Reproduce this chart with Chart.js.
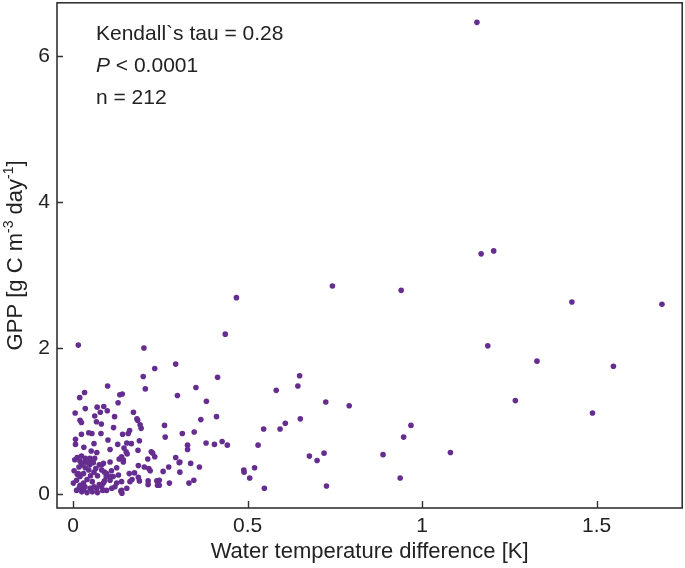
<!DOCTYPE html>
<html>
<head>
<meta charset="utf-8">
<script src="https://cdn.jsdelivr.net/npm/chart.js@4/dist/chart.umd.min.js"></script>
<style>
  html, body { margin: 0; padding: 0; background: #fff; }
  #wrap { position: relative; width: 685px; height: 568px; }
</style>
</head>
<body>
<div id="wrap"><canvas id="chart"></canvas></div>
<script>
"use strict";

// water temperature difference [K]
const tempDiff = [
  1.157, 1.169, 1.205, 0.940, 1.429, 1.687, 1.188, 1.329, 1.548, 1.267,
  1.488, 0.968, 0.947, 1.081, 0.937, 0.743, 0.468, 0.436, 0.414, 0.352,
  0.582, 0.644, 0.649, 0.382, 0.724, 0.791, 0.411, 0.366, 0.651, 0.608,
  0.593, 0.546, 0.313, 0.347, 0.328, 0.328, 0.381, 0.405, 0.427, 0.442,
  0.530, 0.677, 0.699, 0.719, 0.888, 0.306, 0.337, 0.362, 0.306, 0.332,
  0.346, 0.489, 0.490, 0.520, 0.506, 0.548, 0.726, 0.203, 0.294, 0.234,
  0.201, 0.207, 0.299, 0.173, 0.183, 0.015, 0.099, 0.033, 0.019, 0.141,
  0.134, 0.129, 0.035, 0.006, 0.069, 0.088, 0.098, 0.078, 0.062, 0.119,
  0.020, 0.024, 0.067, 0.081, 0.192, 0.195, 0.185, 0.262, 0.264, 0.024,
  0.045, 0.054, 0.080, 0.116, 0.142, 0.162, 0.158, 0.007, 0.007, 0.031,
  0.060, 0.100, 0.128, 0.154, 0.167, 0.190, 0.186, 0.106, 0.052, 0.068,
  0.146, 0.152, 0.155, 0.224, 0.228, 0.234, 0.214, 0.005, 0.012, 0.024,
  0.035, 0.048, 0.062, 0.042, 0.053, 0.048, 0.082, 0.132, 0.144, 0.139,
  0.187, 0.258, 0.274, 0.294, 0.304, 0.204, 0.217, 0.221, 0.176, 0.169,
  0.163, 0.187, 0.190, 0.215, 0.215, 0.240, 0.242, 0.247, 0.247, 0.276,
  0.020, 0.034, 0.058, 0.087, 0.106, 0.144, 0.017, 0.003, 0.015, 0.020,
  0.010, 0.030, 0.082, 0.096, 0.115, 0.130, 0.139, 0.125, 0.106, 0.087,
  0.001, 0.020, 0.034, 0.049, 0.068, 0.082, 0.096, 0.111, 0.139, 0.154,
  0.095, 0.106, 0.161, 0.137, 0.140, 0.010, 0.025, 0.030, 0.040, 0.055,
  0.060, 0.070, 0.075, 0.085, 0.090, 0.120, 0.030, 0.040, 0.050, 0.060,
  0.045, 0.025, 0.012, 0.070, 0.055, 0.018, 0.090, 0.110, 0.125, 0.075,
  0.035, 0.065
];

// GPP [g C m-3 day-1]
const gpp = [
  6.46, 3.29, 3.33, 2.79, 2.63, 2.60, 2.03, 1.82, 1.75, 1.28,
  1.11, 0.94, 0.78, 0.57, 0.22, 2.85, 2.69, 2.19, 1.60, 1.46,
  1.42, 1.48, 1.62, 1.27, 1.26, 1.21, 1.06, 1.02, 1.03, 0.97,
  0.89, 0.89, 0.83, 0.85, 0.67, 0.61, 0.70, 0.68, 0.72, 0.67,
  0.67, 0.52, 0.46, 0.56, 0.54, 0.44, 0.42, 0.37, 0.30, 0.15,
  0.19, 0.33, 0.30, 0.36, 0.22, 0.08, 0.11, 2.00, 1.78, 1.72,
  1.61, 1.44, 1.35, 1.12, 1.03, 2.04, 1.48, 1.39, 1.32, 1.37,
  1.36, 1.25, 1.17, 1.11, 1.19, 1.20, 1.14, 1.12, 1.07, 1.06,
  1.01, 0.98, 0.99, 0.96, 0.95, 0.90, 1.01, 0.94, 0.78, 0.82,
  0.84, 0.83, 0.83, 0.91, 0.82, 0.87, 0.83, 0.75, 0.68, 0.64,
  0.69, 0.74, 0.68, 0.70, 0.69, 0.73, 0.60, 0.61, 0.59, 0.57,
  0.63, 0.58, 0.55, 0.58, 0.56, 0.51, 0.48, 0.47, 0.50, 0.52,
  0.49, 0.49, 0.49, 0.43, 0.44, 0.40, 0.40, 0.48, 0.47, 0.51,
  0.39, 0.31, 0.37, 0.50, 0.43, 0.37, 0.35, 0.32, 0.29, 0.20,
  0.17, 0.23, 0.18, 0.18, 0.13, 0.18, 0.12, 0.19, 0.12, 0.15,
  0.45, 0.44, 0.43, 0.42, 0.44, 0.44, 0.37, 0.32, 0.28, 0.24,
  0.19, 0.28, 0.33, 0.28, 0.24, 0.26, 0.17, 0.15, 0.19, 0.15,
  0.15, 0.12, 0.10, 0.08, 0.08, 0.10, 0.05, 0.08, 0.05, 0.08,
  0.24, 0.24, 0.28, 0.04, 0.01, 0.05, 0.03, 0.07, 0.02, 0.03,
  0.10, 0.02, 0.13, 0.05, 0.18, 0.10, 0.15, 0.20, 0.25, 0.30,
  0.33, 0.40, 0.27, 0.25, 0.17, 0.09, 0.30, 0.32, 0.36, 0.40,
  0.36, 0.35
];

const xTicks = [0, 0.5, 1, 1.5];
const yTicks = [0, 2, 4, 6];
const statLines = ["Kendall`s tau = 0.28", "< 0.0001", "n = 212"];

const FONT = "'Liberation Sans', Arial, Helvetica, sans-serif";
const INK = "#222";
const DOT = "#662d91";

const frameAndTicks = {
  id: "frameAndTicks",
  afterDraw(chart) {
    const { ctx, chartArea: a, scales } = chart;
    ctx.save();
    ctx.strokeStyle = "#333";
    ctx.lineWidth = 1.4;
    ctx.beginPath();
    xTicks.forEach((v) => {
      const px = Math.round(scales.x.getPixelForValue(v)) + 0.5;
      ctx.moveTo(px, a.bottom);
      ctx.lineTo(px, a.bottom - 7);
    });
    yTicks.forEach((v) => {
      const py = Math.round(scales.y.getPixelForValue(v)) + 0.5;
      ctx.moveTo(a.left, py);
      ctx.lineTo(a.left + 6, py);
    });
    ctx.stroke();
    ctx.lineWidth = 1.6;
    ctx.strokeRect(a.left, a.top, a.right - a.left, a.bottom - a.top);

    // stats text
    ctx.fillStyle = INK;
    ctx.textBaseline = "alphabetic";
    ctx.textAlign = "left";
    const tx = a.left + 39;
    ctx.font = `21px ${FONT}`;
    ctx.fillText(statLines[0], tx, a.top + 37);
    ctx.font = `italic 21px ${FONT}`;
    ctx.fillText("P", tx, a.top + 69);
    const pw = ctx.measureText("P ").width;
    ctx.font = `21px ${FONT}`;
    ctx.fillText(statLines[1], tx + pw, a.top + 69);
    ctx.fillText(statLines[2], tx, a.top + 101);

    // y axis title with superscripts
    const parts = [
      ["GPP [g C m", false], ["-3", true], [" day", false], ["-1", true], ["]", false],
    ];
    const widthOf = ([t, sup]) => {
      ctx.font = sup ? `14px ${FONT}` : `22px ${FONT}`;
      return ctx.measureText(t).width;
    };
    const total = parts.reduce((s, p) => s + widthOf(p), 0);
    ctx.translate(22, (a.top + a.bottom) / 2);
    ctx.rotate(-Math.PI / 2);
    let cx = -total / 2;
    parts.forEach((p) => {
      const w = widthOf(p);
      ctx.fillText(p[0], cx, p[1] ? -9 : 0);
      cx += w;
    });
    ctx.restore();
  },
};

const noEdgePadding = (s) => {
  s.paddingTop = 0;
  s.paddingBottom = 0;
  s.paddingLeft = 0;
  s.paddingRight = 0;
};

new Chart(document.getElementById("chart"), {
  type: "scatter",
  data: {
    datasets: [{
      data: tempDiff.map((x, i) => ({ x, y: gpp[i] })),
      backgroundColor: DOT,
      borderColor: DOT,
      borderWidth: 0,
      pointRadius: 2.8,
      pointHoverRadius: 2.8,
    }],
  },
  options: {
    responsive: true,
    maintainAspectRatio: false,
    animation: false,
    layout: { padding: { top: 1, right: 2, left: 0, bottom: 0 } },
    plugins: { legend: { display: false }, tooltip: { enabled: false } },
    scales: {
      x: {
        type: "linear",
        min: -0.046,
        max: 1.745,
        afterBuildTicks: (s) => { s.ticks = xTicks.map((value) => ({ value })); },
        afterFit: (s) => { s.height = 60; noEdgePadding(s); },
        grid: { display: false, drawTicks: false },
        border: { display: false },
        ticks: {
          padding: 6,
          color: INK,
          font: { family: FONT, size: 21 },
          callback: (v) => String(v),
        },
        title: {
          display: true,
          text: "Water temperature difference [K]",
          color: INK,
          font: { family: FONT, size: 22 },
          padding: { top: 0, bottom: 3 },
        },
      },
      y: {
        type: "linear",
        min: -0.191,
        max: 6.728,
        afterBuildTicks: (s) => { s.ticks = yTicks.map((value) => ({ value })); },
        afterFit: (s) => { s.width = 57; noEdgePadding(s); },
        grid: { display: false, drawTicks: false },
        border: { display: false },
        ticks: {
          padding: 7,
          color: INK,
          font: { family: FONT, size: 21 },
          callback: (v) => String(v),
        },
      },
    },
  },
  plugins: [frameAndTicks],
});
</script>
</body>
</html>
